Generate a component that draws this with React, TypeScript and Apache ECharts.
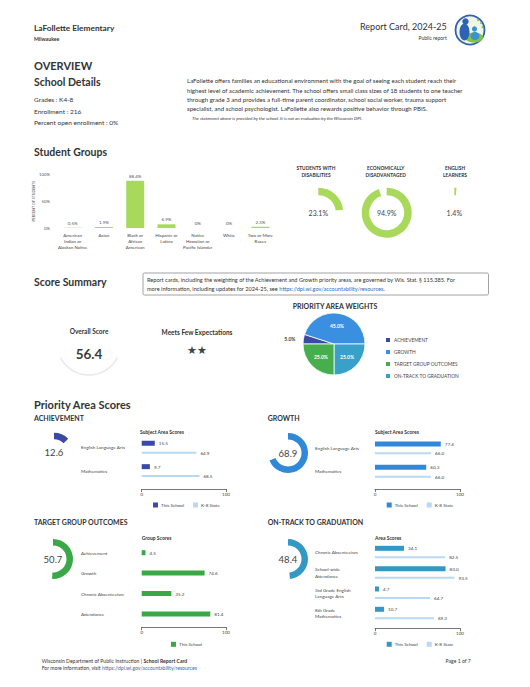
import React, { useEffect, useRef } from "react";
import * as echarts from "echarts";

const FONT = "Lato, 'Open Sans', sans-serif";

// ---------- Data ----------
const groupCategories = [
  "American\nIndian or\nAlaskan Native",
  "Asian",
  "Black or\nAfrican\nAmerican",
  "Hispanic or\nLatino",
  "Native\nHawaiian or\nPacific Islander",
  "White",
  "Two or More\nRaces",
];
const groupValues = [0.5, 1.9, 88.4, 6.9, 0, 0, 2.3];
const groupAxisTicks = [0, 50, 100];

const donutTitles = ["STUDENTS WITH\nDISABILITIES", "ECONOMICALLY\nDISADVANTAGED", "ENGLISH\nLEARNERS"];
const donutValues = [23.1, 94.9, 1.4];

const weightNames = ["ACHIEVEMENT", "GROWTH", "TARGET GROUP OUTCOMES", "ON-TRACK TO GRADUATION"];
const weightValues = [5, 45, 25, 25];
const weightColors = ["#3b4ba5", "#3a8fe0", "#46ae4c", "#38a0c9"];
const weightDrawOrder = [0, 1, 3, 2];

const priorityNames = ["ACHIEVEMENT", "GROWTH", "TARGET GROUP OUTCOMES", "ON-TRACK TO GRADUATION"];
const priorityScores = [12.6, 68.9, 50.7, 48.4];
const priorityColors = ["#3b4ba5", "#3088d8", "#3aa846", "#3399c4"];

const achCategories = ["English Language Arts", "Mathematics"];
const achSchool = [15.5, 9.7];
const achState = [64.9, 68.5];

const growthCategories = ["English Language Arts", "Mathematics"];
const growthSchool = [77.4, 60.3];
const growthState = [66.0, 66.0];

const targetCategories = ["Achievement", "Growth", "Chronic Absenteeism", "Attendance"];
const targetSchool = [4.5, 74.6, 35.2, 81.4];

const trackCategories = [
  "Chronic Absenteeism",
  "School-wide\nAttendance",
  "3rd Grade English\nLanguage Arts",
  "8th Grade\nMathematics",
];
const trackSchool = [34.1, 83.0, 4.7, 10.7];
const trackState = [82.5, 93.5, 64.7, 69.3];

const scoreTicks = [0, 100];
const stateColor = "#b9d8f1";

// ---------- helpers ----------
function txt(x: number, y: number, text: string, size: number, o: any = {}) {
  return {
    type: "text",
    x,
    y,
    silent: true,
    style: {
      text,
      fontSize: size,
      fontFamily: FONT,
      fontWeight: o.weight || "normal",
      fontStyle: o.italic ? "italic" : "normal",
      fill: o.color || "#333",
      textAlign: o.align || "left",
      align: o.align || "left",
      textVerticalAlign: "middle",
      verticalAlign: "middle",
      lineHeight: o.lineHeight,
      rich: o.rich,
    },
  };
}

function scoreXAxis(gridIndex: number, offset: number) {
  return {
    gridIndex,
    type: "value",
    min: scoreTicks[0],
    max: scoreTicks[1],
    interval: scoreTicks[1] - scoreTicks[0],
    offset,
    axisLine: { show: true, lineStyle: { color: "#555", width: 0.8 } },
    axisTick: { show: true, length: 3, lineStyle: { color: "#555", width: 0.8 } },
    axisLabel: { fontSize: 4.5, color: "#444", margin: 3, fontFamily: FONT },
    splitLine: { show: false },
  };
}

function catYAxis(gridIndex: number, data: string[], margin: number) {
  return {
    gridIndex,
    type: "category",
    inverse: true,
    data,
    axisLine: { show: false },
    axisTick: { show: false },
    axisLabel: {
      align: "left",
      margin,
      fontSize: 4.6,
      lineHeight: 6.3,
      color: "#444",
      fontFamily: FONT,
    },
  };
}

function barLabel() {
  return {
    show: true,
    position: "right",
    distance: 4,
    fontSize: 4.6,
    color: "#444",
    fontFamily: FONT,
    formatter: (p: any) => Number(p.value).toFixed(1),
  };
}

function schoolBar(idx: number, data: number[], color: string, gap: string) {
  return {
    name: "This School",
    type: "bar",
    xAxisIndex: idx,
    yAxisIndex: idx,
    data,
    barWidth: 5,
    barGap: gap,
    itemStyle: { color },
    label: barLabel(),
    silent: true,
  };
}

function stateBar(idx: number, data: number[], gap: string) {
  return {
    name: "K-8 State",
    type: "bar",
    xAxisIndex: idx,
    yAxisIndex: idx,
    data,
    barWidth: 2,
    barGap: gap,
    itemStyle: { color: stateColor },
    label: barLabel(),
    silent: true,
  };
}

function barLegend(left: number, top: number, schoolColor: string, withState: boolean) {
  const data: any[] = [{ name: "This School", itemStyle: { color: schoolColor } }];
  if (withState) data.push({ name: "K-8 State", itemStyle: { color: stateColor } });
  return {
    left,
    top,
    orient: "horizontal",
    itemWidth: 5,
    itemHeight: 5,
    itemGap: 9,
    icon: "rect",
    selectedMode: false,
    textStyle: { fontSize: 4.6, color: "#444", fontFamily: FONT, padding: [0, 0, 0, -2] },
    data,
  };
}

const donutCenters: [number, number][] = [
  [318.3, 212.7],
  [386.7, 212.7],
  [454.3, 212.7],
];
const donutTitleX = [316, 385.7, 455];

const gaugeCenters: [number, number][] = [
  [54, 452.7],
  [288, 453],
  [53, 559],
  [288, 559],
];

export default function App() {
  const ref = useRef<HTMLDivElement>(null);

  useEffect(() => {
    const chart = echarts.init(ref.current!, null, { renderer: "svg" });

    const donutSeries = donutValues.map((v, i) => ({
      type: "pie",
      radius: [17.5, 25],
      center: donutCenters[i],
      startAngle: 90,
      clockwise: true,
      silent: true,
      labelLine: { show: false },
      label: { show: false },
      itemStyle: { borderWidth: 0 },
      data: [
        {
          name: donutTitles[i],
          value: v,
          itemStyle: { color: "#a9d95b" },
          label: {
            show: true,
            position: "center",
            formatter: v.toFixed(1) + "%",
            fontSize: 7,
            color: "#444",
            fontFamily: FONT,
          },
        },
        { name: "rest" + i, value: 100 - v, itemStyle: { color: "rgba(0,0,0,0)" } },
      ],
    }));

    const gaugeSeries = priorityScores.map((v, i) => ({
      type: "pie",
      radius: [13.5, 20],
      center: gaugeCenters[i],
      startAngle: 90,
      clockwise: true,
      silent: true,
      labelLine: { show: false },
      label: { show: false },
      data: [
        {
          name: priorityNames[i] + " score",
          value: v,
          itemStyle: { color: priorityColors[i] },
          label: {
            show: true,
            position: "center",
            formatter: v.toFixed(1),
            fontSize: 9.5,
            color: "#444",
            fontFamily: FONT,
          },
        },
        { name: "gaugeRest" + i, value: 100 - v, itemStyle: { color: "rgba(0,0,0,0)" } },
      ],
    }));

    const weightData = weightDrawOrder.map((k) => ({
      name: weightNames[k],
      value: weightValues[k],
      itemStyle: { color: weightColors[k] },
      ...(weightValues[k] < 10
        ? {
            label: { position: "outside", color: "#444", fontWeight: "bold", fontSize: 5 },
            labelLine: { show: false, length: 3, length2: 0 },
          }
        : {}),
    }));

    const graphics: any[] = [
      // header
      txt(34, 28, "LaFollette Elementary", 8.3, { weight: "bold" }),
      txt(34, 38.5, "Milwaukee", 5.2, { weight: "bold" }),
      txt(446.7, 26.7, "Report Card, 2024-25", 9, { align: "right" }),
      txt(446.7, 37.7, "Public report", 5, { align: "right" }),
      // logo
      { type: "circle", shape: { cx: 470, cy: 30, r: 14.5 }, style: { fill: "#eef6e6", stroke: "#2f62b3", lineWidth: 1.8 } },
      { type: "ellipse", shape: { cx: 474, cy: 37.5, rx: 9, ry: 5 }, style: { fill: "#84c341" } },
      { type: "circle", shape: { cx: 465.5, cy: 21.5, r: 3.2 }, style: { fill: "#2f62b3" } },
      { type: "ellipse", shape: { cx: 464.5, cy: 32, rx: 5, ry: 8.5 }, style: { fill: "#2f62b3" } },
      { type: "circle", shape: { cx: 474.5, cy: 29, r: 2.6 }, style: { fill: "#3d8fd6" } },
      { type: "ellipse", shape: { cx: 475, cy: 36, rx: 4.5, ry: 4 }, style: { fill: "#3d8fd6" } },
      { type: "circle", shape: { cx: 478, cy: 20, r: 1 }, style: { fill: "#84c341" } },
      { type: "circle", shape: { cx: 481, cy: 23, r: 1 }, style: { fill: "#84c341" } },
      { type: "circle", shape: { cx: 482.5, cy: 27, r: 1 }, style: { fill: "#84c341" } },
      // overview
      txt(34, 65, "OVERVIEW", 11, { weight: "bold" }),
      txt(34, 82, "School Details", 10.5, { weight: "bold" }),
      txt(34, 99.3, "Grades : K4-8", 6.5),
      txt(34, 111, "Enrollment : 216", 6.5),
      txt(34, 122.7, "Percent open enrollment : 0%", 6.5),
      txt(187, 80.7, "LaFollette offers families an educational environment with the goal of seeing each student reach their", 6.1),
      txt(187, 90, "highest level of academic achievement. The school offers small class sizes of 18 students to one teacher", 6.1),
      txt(187, 99.2, "through grade 3 and provides a full-time parent coordinator, school social worker, trauma support", 6.1),
      txt(187, 108.3, "specialist, and school psychologist. LaFollette also rewards positive behavior through PBIS.", 6.1),
      txt(192, 118.3, "The statement above is provided by the school. It is not an evaluation by the Wisconsin DPI.", 4.5, { italic: true }),
      // student groups
      txt(34, 151.7, "Student Groups", 10.5, { weight: "bold" }),
      ...donutTitles.map((t, i) =>
        txt(donutTitleX[i], 171.3, t, 4.8, { weight: "bold", align: "center", lineHeight: 7.3 })
      ),
      // score summary
      txt(34, 281.7, "Score Summary", 10.5, { weight: "bold" }),
      {
        type: "rect",
        shape: { x: 143, y: 273, width: 345.5, height: 22, r: 1.5 },
        style: { fill: "none", stroke: "#8a8a8a", lineWidth: 0.8 },
      },
      txt(147, 279, "Report cards, including the weighting of the Achievement and Growth priority areas, are governed by Wis. Stat. § 115.385. For", 5.6),
      txt(147, 288.7, "more information, including updates for 2024-25, see {l|https://dpi.wi.gov/accountability/resources}.", 5.6, {
        rich: { l: { fill: "#2a6cc0", color: "#2a6cc0", fontSize: 5.6, fontFamily: FONT } },
      }),
      {
        type: "arc",
        shape: { cx: 89, cy: 343, r: 32, startAngle: Math.PI * 0.15, endAngle: Math.PI * 0.85, clockwise: true },
        style: { stroke: "#e6e8ec", lineWidth: 1.5, fill: "none" },
      },
      txt(89, 331, "Overall Score", 6.5, { weight: "bold", align: "center" }),
      txt(89, 354, "56.4", 13.5, { weight: "bold", align: "center", color: "#3a3a3a" }),
      txt(197, 332, "Meets Few Expectations", 6.5, { weight: "bold", align: "center" }),
      txt(197, 350, "★★", 10.5, { align: "center", color: "#444" }),
      txt(335, 306, "PRIORITY AREA WEIGHTS", 7, { weight: "bold", align: "center" }),
      // priority area scores
      txt(34, 404, "Priority Area Scores", 11, { weight: "bold" }),
      txt(34, 417.7, "ACHIEVEMENT", 7, { weight: "bold" }),
      txt(267.7, 417.7, "GROWTH", 7, { weight: "bold" }),
      txt(34, 522.3, "TARGET GROUP OUTCOMES", 7, { weight: "bold" }),
      txt(267.7, 522.3, "ON-TRACK TO GRADUATION", 7, { weight: "bold" }),
      txt(140, 432.3, "Subject Area Scores", 5, { weight: "bold" }),
      txt(375, 432.3, "Subject Area Scores", 5, { weight: "bold" }),
      txt(141.7, 538.3, "Group Scores", 5, { weight: "bold" }),
      txt(375, 538.3, "Area Scores", 5, { weight: "bold" }),
      // footer
      txt(41.7, 660.7, "Wisconsin Department of Public Instruction | {b|School Report Card}", 5.1, {
        rich: { b: { fontWeight: "bold", fontSize: 5.1, fontFamily: FONT, fill: "#333", color: "#333" } },
      }),
      txt(41.7, 668.3, "For more information, visit {l|https://dpi.wi.gov/accountability/resources}", 5.1, {
        rich: { l: { fill: "#2a6cc0", color: "#2a6cc0", fontSize: 5.1, fontFamily: FONT } },
      }),
      txt(470.7, 660.7, "Page 1 of 7", 5.1, { align: "right" }),
    ];

    const option: any = {
      animation: false,
      backgroundColor: "#ffffff",
      textStyle: { fontFamily: FONT },
      graphic: { elements: graphics },
      grid: [
        { left: 57, top: 174.5, width: 219, height: 53.5 },
        { left: 141.7, top: 435.5, width: 84.3, height: 46.8 },
        { left: 375, top: 436.2, width: 85, height: 46.8 },
        { left: 141.7, top: 542.5, width: 84.3, height: 81.6 },
        { left: 375, top: 541.9, width: 85, height: 81.3 },
      ],
      xAxis: [
        {
          gridIndex: 0,
          type: "category",
          data: groupCategories,
          axisLine: { show: false },
          axisTick: { show: false },
          axisLabel: { interval: 0, fontSize: 4.5, lineHeight: 5.7, color: "#444", margin: 5, fontFamily: FONT },
        },
        scoreXAxis(1, 6.7),
        scoreXAxis(2, 6),
        scoreXAxis(3, 3),
        scoreXAxis(4, 5),
      ],
      yAxis: [
        {
          gridIndex: 0,
          type: "value",
          min: groupAxisTicks[0],
          max: groupAxisTicks[2],
          interval: groupAxisTicks[1],
          axisLine: { show: false },
          axisTick: { show: false },
          splitLine: { show: false },
          axisLabel: { formatter: "{value}%", fontSize: 4.3, color: "#555", margin: 7, fontFamily: FONT },
          name: "PERCENT OF STUDENTS",
          nameLocation: "middle",
          nameGap: 20,
          nameRotate: 90,
          nameTextStyle: { fontSize: 3.6, color: "#555", fontFamily: FONT },
        },
        catYAxis(1, achCategories, 60.7),
        catYAxis(2, growthCategories, 60),
        catYAxis(3, targetCategories, 60.7),
        catYAxis(4, trackCategories, 60),
      ],
      legend: [
        {
          left: 379,
          top: 331,
          orient: "vertical",
          itemWidth: 6,
          itemHeight: 6,
          itemGap: 4,
          icon: "rect",
          selectedMode: false,
          textStyle: { fontSize: 4.8, color: "#444", fontFamily: FONT, padding: [0, 0, 0, -2] },
          data: weightNames.map((n, i) => ({ name: n, itemStyle: { color: weightColors[i] } })),
        },
        barLegend(148, 497.5, priorityColors[0], true),
        barLegend(381.7, 497.5, priorityColors[1], true),
        barLegend(166, 636.8, priorityColors[2], false),
        barLegend(381.7, 636.8, priorityColors[3], true),
      ],
      series: [
        {
          name: "Student Groups",
          type: "bar",
          xAxisIndex: 0,
          yAxisIndex: 0,
          data: groupValues,
          barWidth: 18,
          itemStyle: { color: "#a9d95b" },
          silent: true,
          label: {
            show: true,
            position: "top",
            distance: 2,
            fontSize: 4.5,
            color: "#555",
            fontFamily: FONT,
            formatter: (p: any) => (p.value === 0 ? "0%" : Number(p.value).toFixed(1) + "%"),
          },
        },
        ...donutSeries,
        {
          name: "Priority Area Weights",
          type: "pie",
          center: [334, 344],
          radius: 31,
          startAngle: 180,
          clockwise: true,
          silent: true,
          itemStyle: { borderColor: "#fff", borderWidth: 0.8 },
          label: {
            show: true,
            position: "inside",
            color: "#fff",
            fontSize: 5,
            fontWeight: "bold",
            fontFamily: FONT,
            formatter: (p: any) => Number(p.value).toFixed(1) + "%",
          },
          labelLine: { show: false },
          data: weightData,
        },
        ...gaugeSeries,
        schoolBar(1, achSchool, priorityColors[0], "118%"),
        stateBar(1, achState, "118%"),
        schoolBar(2, growthSchool, priorityColors[1], "118%"),
        stateBar(2, growthState, "118%"),
        schoolBar(3, targetSchool, priorityColors[2], "100%"),
        schoolBar(4, trackSchool, priorityColors[3], "110%"),
        stateBar(4, trackState, "110%"),
      ],
    };

    chart.setOption(option);
    return () => chart.dispose();
  }, []);

  return (
    <div
      ref={ref}
      style={{ position: "absolute", left: 0, top: 0, width: 530, height: 687, background: "#fff" }}
    />
  );
}
